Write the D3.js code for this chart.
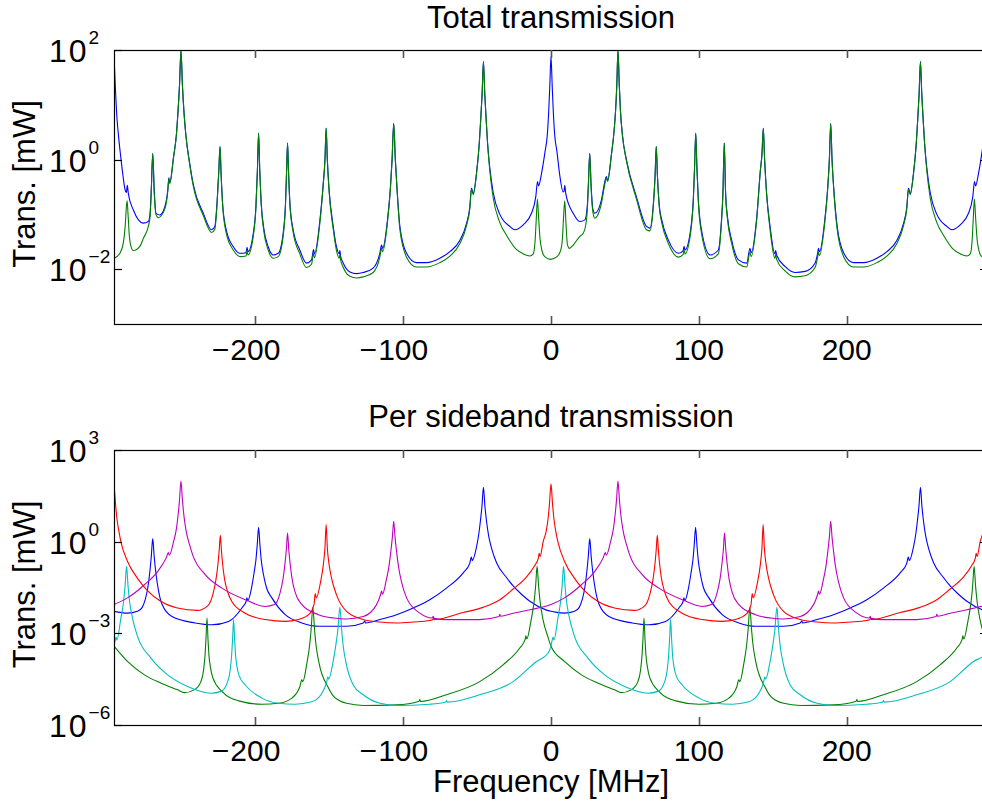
<!DOCTYPE html>
<html><head><meta charset="utf-8">
<script src="https://cdn.jsdelivr.net/npm/d3@7"></script>
<style>
html,body{margin:0;padding:0;background:#fff;}
svg{display:block;}
text{font-family:"Liberation Sans",Arial,Helvetica,sans-serif;fill:#000;}
</style></head>
<body>
<div id="chart"></div>
<script>
// ---------------- DATA (frequency in MHz, value as log10 of power in mW) ----------------
const titles = ["Total transmission", "Per sideband transmission"];
const xLabel = "Frequency [MHz]";
const yLabel = "Trans. [mW]";
const xTicks = [-200, -100, 0, 100, 200];
const topYTickExps = [2, 0, -2];
const bottomYTickExps = [3, 0, -3, -6];

// Top panel: total (blue) and second trace (green)
const topBlueLog = [[-295.6,1.89],[-294.6,1.27],[-293.6,0.76],[-292.5,0.42],[-291.0,0.04],[-289.5,-0.30],[-288.1,-0.55],[-287.2,-0.60],[-286.6,-0.47],[-285.9,-0.62],[-282.5,-0.92],[-275.8,-1.16],[-272.4,-1.13],[-271.2,-0.98],[-270.4,-0.55],[-269.4,0.11],[-268.4,-0.55],[-267.2,-0.98],[-264.5,-1.01],[-261.2,-0.86],[-259.2,-0.55],[-258.5,-0.33],[-257.9,-0.42],[-255.3,0.05],[-253.3,0.48],[-252.3,0.88],[-251.3,1.35],[-250.3,1.99],[-249.3,1.35],[-248.3,0.88],[-247.0,0.45],[-244.5,-0.05],[-242.0,-0.45],[-235.2,-0.98],[-229.6,-1.28],[-227.4,-1.22],[-225.8,-0.74],[-224.7,-0.20],[-223.9,0.24],[-223.1,-0.30],[-222.0,-0.85],[-219.5,-1.30],[-214.9,-1.59],[-210.4,-1.71],[-206.3,-1.70],[-205.6,-1.60],[-205.0,-1.68],[-201.4,-1.35],[-199.6,-0.85],[-198.6,-0.20],[-197.8,0.48],[-197.0,-0.20],[-196.0,-0.80],[-194.3,-1.25],[-191.3,-1.59],[-187.9,-1.74],[-184.5,-1.71],[-181.2,-1.35],[-179.6,-0.80],[-178.9,-0.25],[-178.2,0.30],[-177.5,-0.25],[-176.6,-0.80],[-174.4,-1.28],[-169.9,-1.65],[-165.4,-1.89],[-162.0,-1.83],[-160.6,-1.64],[-160.0,-1.72],[-156.3,-1.10],[-154.1,-0.45],[-152.9,0.00],[-152.1,0.57],[-151.3,0.00],[-150.1,-0.55],[-147.3,-1.22],[-145.1,-1.59],[-143.2,-1.72],[-142.8,-1.66],[-142.3,-1.76],[-140.5,-1.89],[-136.0,-2.05],[-131.5,-2.08],[-127.0,-2.06],[-120.3,-1.98],[-115.8,-1.71],[-114.6,-1.56],[-113.9,-1.62],[-110.6,-1.10],[-108.6,-0.50],[-107.5,0.00],[-106.4,0.66],[-105.3,0.00],[-104.2,-0.50],[-102.2,-1.22],[-97.7,-1.71],[-91.0,-1.88],[-84.2,-1.88],[-75.2,-1.80],[-68.4,-1.68],[-61.6,-1.47],[-57.1,-1.16],[-54.9,-0.86],[-53.8,-0.52],[-52.6,-0.62],[-50.4,-0.25],[-48.5,0.30],[-47.5,0.75],[-46.6,1.20],[-45.7,1.79],[-44.8,1.20],[-43.9,0.75],[-42.9,0.30],[-41.4,-0.15],[-39.1,-0.60],[-34.6,-1.00],[-27.8,-1.22],[-24.4,-1.28],[-18.8,-1.19],[-13.2,-0.98],[-10.3,-0.68],[-9.1,-0.40],[-8.4,-0.48],[-6.4,-0.25],[-4.0,0.15],[-2.5,0.45],[-1.6,0.85],[-0.8,1.35],[0.0,1.88],[0.8,1.35],[1.6,0.85],[2.5,0.45],[4.0,0.15],[6.0,-0.30],[8.2,-0.59],[8.8,-0.58],[9.3,-0.47],[10.0,-0.62],[15.0,-0.98],[19.5,-1.13],[22.9,-1.10],[24.5,-0.86],[25.3,-0.45],[26.2,0.11],[27.1,-0.45],[28.3,-0.90],[29.6,-0.98],[34.1,-0.74],[36.4,-0.40],[37.5,-0.31],[38.3,-0.38],[40.9,0.10],[42.6,0.50],[43.7,0.90],[44.5,1.35],[45.3,1.99],[46.2,1.35],[47.0,0.88],[48.3,0.45],[51.0,0.00],[57.8,-0.68],[64.6,-1.22],[66.9,-1.25],[69.1,-0.86],[70.4,-0.30],[71.2,0.24],[72.0,-0.30],[73.3,-0.85],[74.9,-1.10],[79.4,-1.47],[86.2,-1.71],[89.4,-1.66],[90.0,-1.58],[90.6,-1.65],[94.6,-1.25],[96.3,-0.70],[97.1,-0.15],[97.9,0.48],[98.7,-0.15],[99.6,-0.70],[101.4,-1.22],[107.6,-1.74],[113.2,-1.65],[115.2,-1.15],[116.3,-0.60],[117.2,0.30],[118.1,-0.60],[119.4,-1.05],[122.2,-1.47],[126.8,-1.83],[132.4,-1.89],[134.6,-1.62],[135.4,-1.70],[139.2,-1.04],[141.6,-0.20],[142.7,0.10],[143.6,0.57],[144.5,0.00],[145.8,-0.60],[148.2,-1.22],[151.4,-1.72],[152.0,-1.66],[152.6,-1.74],[158.3,-1.95],[165.1,-2.06],[171.9,-2.04],[178.6,-1.89],[180.4,-1.70],[180.9,-1.62],[181.6,-1.68],[185.2,-1.10],[187.2,-0.50],[188.3,0.00],[189.2,0.66],[190.1,0.00],[191.2,-0.50],[193.6,-1.22],[198.1,-1.71],[204.6,-1.88],[211.4,-1.88],[220.4,-1.80],[227.2,-1.68],[234.0,-1.47],[238.5,-1.16],[240.7,-0.86],[241.8,-0.52],[243.0,-0.62],[245.2,-0.25],[247.1,0.30],[248.1,0.75],[249.0,1.20],[249.9,1.79],[250.8,1.20],[251.7,0.75],[252.7,0.30],[254.2,-0.15],[256.5,-0.60],[261.0,-1.00],[267.8,-1.22],[271.2,-1.28],[276.8,-1.19],[282.4,-0.98],[285.3,-0.68],[286.5,-0.40],[287.2,-0.48],[289.2,-0.25],[291.6,0.15],[293.1,0.45],[294.0,0.85],[294.8,1.35],[295.6,1.88]];

const topGreenLog = [[-295.6,-1.80],[-291.6,-1.71],[-289.3,-1.52],[-288.0,-1.20],[-287.2,-0.85],[-286.7,-0.75],[-286.1,-1.00],[-285.2,-1.40],[-283.7,-1.62],[-282.5,-1.66],[-278.0,-1.58],[-275.8,-1.44],[-272.4,-1.22],[-271.2,-1.04],[-270.4,-0.60],[-269.4,0.11],[-268.4,-0.60],[-267.2,-1.00],[-265.7,-1.06],[-261.2,-0.90],[-259.2,-0.57],[-258.5,-0.35],[-257.9,-0.44],[-255.3,0.05],[-253.3,0.48],[-252.3,0.88],[-251.3,1.35],[-250.3,1.99],[-249.3,1.35],[-248.3,0.88],[-247.0,0.45],[-244.5,-0.07],[-242.0,-0.48],[-235.2,-1.02],[-229.6,-1.33],[-227.4,-1.27],[-225.8,-0.77],[-224.7,-0.20],[-223.9,0.24],[-223.1,-0.30],[-222.0,-0.88],[-219.5,-1.36],[-214.9,-1.65],[-210.4,-1.77],[-206.3,-1.76],[-205.6,-1.66],[-205.0,-1.74],[-201.4,-1.40],[-199.6,-0.88],[-198.6,-0.20],[-197.8,0.48],[-197.0,-0.20],[-196.0,-0.83],[-194.3,-1.30],[-191.3,-1.65],[-187.9,-1.80],[-184.5,-1.77],[-181.2,-1.40],[-179.6,-0.83],[-178.9,-0.25],[-178.2,0.30],[-177.5,-0.25],[-176.6,-0.83],[-174.4,-1.33],[-169.9,-1.72],[-165.4,-1.97],[-162.0,-1.91],[-160.6,-1.71],[-160.0,-1.79],[-156.3,-1.15],[-154.1,-0.47],[-152.9,0.00],[-152.1,0.57],[-151.3,0.00],[-150.1,-0.58],[-147.3,-1.27],[-145.1,-1.66],[-143.2,-1.80],[-142.8,-1.73],[-142.3,-1.83],[-140.5,-1.97],[-136.0,-2.13],[-131.5,-2.16],[-127.0,-2.14],[-120.3,-2.06],[-115.8,-1.78],[-114.6,-1.62],[-113.9,-1.68],[-110.6,-1.14],[-108.6,-0.52],[-107.5,0.00],[-106.4,0.66],[-105.3,0.00],[-104.2,-0.52],[-102.2,-1.28],[-97.7,-1.78],[-91.0,-1.96],[-84.2,-1.96],[-75.2,-1.88],[-68.4,-1.76],[-61.6,-1.53],[-57.1,-1.20],[-54.9,-0.89],[-53.8,-0.54],[-52.6,-0.64],[-50.4,-0.26],[-48.5,0.30],[-47.5,0.75],[-46.6,1.20],[-45.7,1.79],[-44.8,1.20],[-43.9,0.75],[-42.9,0.30],[-41.4,-0.20],[-39.1,-0.70],[-34.6,-1.15],[-30.1,-1.38],[-23.4,-1.64],[-18.8,-1.72],[-14.3,-1.76],[-12.0,-1.72],[-10.8,-1.50],[-10.0,-1.10],[-9.2,-0.72],[-8.4,-1.05],[-7.4,-1.45],[-6.2,-1.65],[-4.2,-1.77],[-0.4,-1.82],[3.7,-1.78],[6.5,-1.66],[7.7,-1.45],[8.5,-1.05],[9.3,-0.75],[10.1,-1.15],[11.1,-1.55],[12.5,-1.62],[15.0,-1.56],[19.5,-1.40],[21.7,-1.35],[23.6,-1.18],[24.7,-0.85],[25.3,-0.45],[26.2,0.11],[27.1,-0.50],[28.3,-0.95],[29.6,-1.07],[31.5,-1.02],[34.1,-0.80],[36.4,-0.45],[37.5,-0.33],[38.3,-0.40],[40.9,0.10],[42.6,0.50],[43.7,0.90],[44.5,1.35],[45.3,1.99],[46.2,1.35],[47.0,0.88],[48.3,0.45],[51.0,-0.02],[57.8,-0.72],[64.6,-1.28],[66.9,-1.30],[69.1,-0.89],[70.4,-0.30],[71.2,0.24],[72.0,-0.30],[73.3,-0.88],[74.9,-1.15],[79.4,-1.53],[86.2,-1.78],[89.4,-1.73],[90.0,-1.64],[90.6,-1.72],[94.6,-1.30],[96.3,-0.73],[97.1,-0.15],[97.9,0.48],[98.7,-0.15],[99.6,-0.73],[101.4,-1.28],[107.6,-1.81],[113.2,-1.72],[115.2,-1.19],[116.3,-0.62],[117.2,0.30],[118.1,-0.62],[119.4,-1.09],[122.2,-1.53],[126.8,-1.90],[132.4,-1.96],[134.6,-1.69],[135.4,-1.77],[139.2,-1.08],[141.6,-0.21],[142.7,0.10],[143.6,0.57],[144.5,0.00],[145.8,-0.62],[148.2,-1.28],[151.4,-1.80],[152.0,-1.73],[152.6,-1.82],[158.3,-2.03],[165.1,-2.14],[171.9,-2.12],[178.6,-1.97],[180.4,-1.77],[180.9,-1.69],[181.6,-1.75],[185.2,-1.14],[187.2,-0.52],[188.3,0.00],[189.2,0.66],[190.1,0.00],[191.2,-0.52],[193.6,-1.28],[198.1,-1.78],[204.6,-1.96],[211.4,-1.96],[220.4,-1.88],[227.2,-1.76],[234.0,-1.53],[238.5,-1.20],[240.7,-0.89],[241.8,-0.54],[243.0,-0.64],[245.2,-0.26],[247.1,0.30],[248.1,0.75],[249.0,1.20],[249.9,1.79],[250.8,1.20],[251.7,0.75],[252.7,0.30],[254.2,-0.20],[256.5,-0.70],[261.0,-1.15],[265.5,-1.38],[272.2,-1.64],[276.8,-1.72],[281.3,-1.76],[283.6,-1.72],[284.8,-1.50],[285.6,-1.10],[286.4,-0.72],[287.2,-1.05],[288.2,-1.45],[289.4,-1.65],[291.4,-1.77],[295.6,-1.80]];

// Bottom panel: per sideband
const sbBlueLog = [[-295.6,-2.28],[-286.5,-2.34],[-279.7,-2.28],[-276.5,-2.15],[-274.5,-1.90],[-272.7,-1.50],[-271.4,-1.00],[-270.4,-0.50],[-269.4,0.10],[-268.4,-0.50],[-267.2,-1.05],[-265.5,-1.60],[-263.1,-2.05],[-256.4,-2.45],[-240.7,-2.66],[-229.4,-2.72],[-218.1,-2.61],[-209.1,-2.17],[-206.2,-1.95],[-205.7,-1.84],[-205.1,-1.93],[-202.6,-1.52],[-200.8,-1.00],[-199.6,-0.60],[-198.7,-0.10],[-197.8,0.47],[-196.9,-0.10],[-196.0,-0.60],[-194.6,-1.05],[-192.5,-1.50],[-188.8,-1.84],[-179.8,-2.39],[-168.5,-2.66],[-157.3,-2.77],[-138.3,-2.77],[-127.0,-2.66],[-126.0,-2.60],[-125.4,-2.66],[-115.7,-2.55],[-104.5,-2.39],[-93.2,-2.17],[-82.0,-1.90],[-70.7,-1.52],[-59.4,-1.02],[-54.9,-0.70],[-53.9,-0.50],[-53.2,-0.62],[-50.5,-0.20],[-48.7,0.30],[-47.7,0.70],[-46.7,1.16],[-45.7,1.78],[-44.7,1.16],[-43.7,0.70],[-42.2,0.20],[-40.0,-0.25],[-36.9,-0.68],[-30.0,-1.18],[-25.6,-1.45],[-20.0,-1.72],[-14.3,-1.95],[-3.0,-2.24],[0.0,-2.28],[9.1,-2.34],[15.9,-2.28],[19.1,-2.15],[21.1,-1.90],[22.9,-1.50],[24.2,-1.00],[25.2,-0.50],[26.2,0.10],[27.2,-0.50],[28.4,-1.05],[30.1,-1.60],[32.5,-2.05],[39.2,-2.45],[54.9,-2.66],[66.2,-2.72],[77.5,-2.61],[86.5,-2.17],[89.4,-1.95],[89.9,-1.84],[90.5,-1.93],[93.0,-1.52],[94.8,-1.00],[96.0,-0.60],[96.9,-0.10],[97.8,0.47],[98.7,-0.10],[99.6,-0.60],[101.0,-1.05],[103.1,-1.50],[106.8,-1.84],[115.8,-2.39],[127.1,-2.66],[138.3,-2.77],[157.3,-2.77],[168.6,-2.66],[169.6,-2.60],[170.2,-2.66],[179.9,-2.55],[191.1,-2.39],[202.4,-2.17],[213.6,-1.90],[224.9,-1.52],[236.2,-1.02],[240.7,-0.70],[241.7,-0.50],[242.4,-0.62],[245.1,-0.20],[246.9,0.30],[247.9,0.70],[248.9,1.16],[249.9,1.78],[250.9,1.16],[251.9,0.70],[253.4,0.20],[255.6,-0.25],[258.7,-0.68],[265.6,-1.18],[270.0,-1.45],[275.6,-1.72],[281.3,-1.95],[292.6,-2.24],[295.6,-2.28]];

const sbGreenLog = [[-295.6,-3.42],[-286.5,-3.92],[-275.0,-4.36],[-263.7,-4.63],[-252.5,-4.85],[-248.0,-4.94],[-241.3,-4.85],[-236.8,-4.58],[-235.0,-4.20],[-234.0,-3.70],[-233.4,-3.20],[-232.7,-2.50],[-232.0,-3.20],[-231.4,-3.70],[-230.4,-4.10],[-228.8,-4.45],[-222.6,-4.90],[-211.3,-5.21],[-195.5,-5.32],[-184.3,-5.29],[-175.3,-5.12],[-169.9,-4.75],[-168.6,-4.52],[-167.9,-4.58],[-165.2,-4.00],[-163.3,-3.40],[-162.3,-2.90],[-161.1,-2.15],[-159.9,-2.90],[-158.9,-3.40],[-157.0,-3.95],[-150.5,-4.79],[-146.9,-5.07],[-138.3,-5.29],[-127.0,-5.36],[-104.5,-5.34],[-89.2,-5.22],[-88.7,-5.17],[-88.2,-5.23],[-70.7,-5.01],[-48.2,-4.58],[-32.4,-4.03],[-21.1,-3.48],[-17.5,-3.20],[-17.0,-3.08],[-16.4,-3.18],[-13.4,-2.55],[-11.4,-1.95],[-10.4,-1.45],[-9.4,-0.81],[-8.4,-1.45],[-7.4,-1.95],[-5.4,-2.55],[-2.2,-3.10],[0.0,-3.42],[9.1,-3.92],[20.6,-4.36],[31.9,-4.63],[43.1,-4.85],[47.6,-4.94],[54.3,-4.85],[58.8,-4.58],[60.6,-4.20],[61.6,-3.70],[62.2,-3.20],[62.9,-2.50],[63.6,-3.20],[64.2,-3.70],[65.2,-4.10],[66.8,-4.45],[73.0,-4.90],[84.3,-5.21],[100.1,-5.32],[111.3,-5.29],[120.3,-5.12],[125.7,-4.75],[127.0,-4.52],[127.7,-4.58],[130.4,-4.00],[132.3,-3.40],[133.3,-2.90],[134.5,-2.15],[135.7,-2.90],[136.7,-3.40],[138.6,-3.95],[145.1,-4.79],[148.7,-5.07],[157.3,-5.29],[168.6,-5.36],[191.1,-5.34],[206.4,-5.22],[206.9,-5.17],[207.4,-5.23],[224.9,-5.01],[247.4,-4.58],[263.2,-4.03],[274.5,-3.48],[278.1,-3.20],[278.6,-3.08],[279.2,-3.18],[282.2,-2.55],[284.2,-1.95],[285.2,-1.45],[286.2,-0.81],[287.2,-1.45],[288.2,-1.95],[290.2,-2.55],[293.4,-3.10],[295.6,-3.42]];

const sbRedLog = [[-295.6,1.89],[-294.6,1.26],[-293.6,0.74],[-292.5,0.40],[-291.0,0.01],[-286.5,-0.64],[-279.7,-1.20],[-273.0,-1.60],[-264.0,-1.95],[-252.7,-2.17],[-239.2,-2.25],[-232.2,-2.10],[-228.6,-1.70],[-226.5,-1.20],[-225.2,-0.70],[-224.4,-0.25],[-223.7,0.21],[-223.0,-0.25],[-222.2,-0.70],[-220.9,-1.20],[-218.8,-1.63],[-215.9,-1.96],[-206.9,-2.34],[-193.3,-2.55],[-179.8,-2.61],[-170.8,-2.55],[-162.9,-2.34],[-160.3,-2.06],[-159.5,-1.70],[-158.8,-1.84],[-155.8,-1.30],[-154.0,-0.75],[-152.9,-0.20],[-152.1,0.56],[-151.3,-0.20],[-150.1,-0.75],[-148.4,-1.20],[-145.1,-1.74],[-138.3,-2.28],[-127.0,-2.55],[-115.7,-2.63],[-104.5,-2.66],[-93.2,-2.63],[-82.0,-2.58],[-79.8,-2.55],[-79.3,-2.49],[-78.8,-2.55],[-59.4,-2.32],[-45.9,-2.15],[-34.6,-1.90],[-25.6,-1.55],[-16.5,-1.15],[-11.0,-0.78],[-8.6,-0.55],[-8.0,-0.38],[-7.4,-0.48],[-5.3,0.00],[-3.1,0.38],[-2.0,0.74],[-1.0,1.26],[0.0,1.89],[1.0,1.26],[2.0,0.74],[3.0,0.40],[4.6,0.01],[9.1,-0.64],[15.9,-1.20],[22.6,-1.60],[31.6,-1.95],[42.9,-2.17],[56.4,-2.25],[63.4,-2.10],[67.0,-1.70],[69.1,-1.20],[70.4,-0.70],[71.2,-0.25],[71.9,0.21],[72.6,-0.25],[73.4,-0.70],[74.7,-1.20],[76.8,-1.63],[79.7,-1.96],[88.7,-2.34],[102.3,-2.55],[115.8,-2.61],[124.8,-2.55],[132.7,-2.34],[135.3,-2.06],[136.1,-1.70],[136.8,-1.84],[139.8,-1.30],[141.6,-0.75],[142.7,-0.20],[143.5,0.56],[144.3,-0.20],[145.5,-0.75],[147.2,-1.20],[150.5,-1.74],[157.3,-2.28],[168.6,-2.55],[179.9,-2.63],[191.1,-2.66],[202.4,-2.63],[213.6,-2.58],[215.8,-2.55],[216.3,-2.49],[216.8,-2.55],[236.2,-2.32],[249.7,-2.15],[261.0,-1.90],[270.0,-1.55],[279.1,-1.15],[284.6,-0.78],[287.0,-0.55],[287.6,-0.38],[288.2,-0.48],[290.3,0.00],[292.5,0.38],[293.6,0.74],[294.6,1.26],[295.6,1.89]];

const sbCyanLog = [[-295.6,-3.42],[-294.8,-3.22],[-294.2,-3.12],[-293.6,-3.22],[-291.1,-2.55],[-289.1,-1.95],[-288.1,-1.45],[-287.1,-0.81],[-286.1,-1.45],[-285.1,-1.95],[-283.1,-2.50],[-279.7,-3.10],[-270.6,-3.81],[-259.3,-4.36],[-245.8,-4.74],[-230.0,-4.96],[-223.2,-4.90],[-218.7,-4.58],[-217.0,-4.20],[-216.0,-3.70],[-215.4,-3.20],[-214.7,-2.55],[-214.0,-3.20],[-213.4,-3.70],[-212.4,-4.10],[-210.8,-4.40],[-206.8,-4.69],[-195.5,-5.12],[-184.3,-5.29],[-173.0,-5.32],[-161.8,-5.24],[-155.0,-4.96],[-151.8,-4.60],[-151.0,-4.42],[-150.4,-4.50],[-147.5,-3.95],[-145.6,-3.40],[-144.2,-2.90],[-142.8,-2.15],[-141.6,-2.90],[-140.6,-3.40],[-138.7,-3.95],[-133.8,-4.69],[-127.0,-5.01],[-115.7,-5.29],[-104.5,-5.36],[-82.0,-5.32],[-71.2,-5.25],[-70.7,-5.20],[-70.2,-5.25],[-48.2,-5.01],[-25.6,-4.58],[-9.8,-3.92],[-2.2,-3.66],[0.0,-3.42],[0.8,-3.22],[1.4,-3.12],[2.0,-3.22],[4.5,-2.55],[6.5,-1.95],[7.5,-1.45],[8.5,-0.81],[9.5,-1.45],[10.5,-1.95],[12.5,-2.50],[15.9,-3.10],[25.0,-3.81],[36.3,-4.36],[49.8,-4.74],[65.6,-4.96],[72.4,-4.90],[76.9,-4.58],[78.6,-4.20],[79.6,-3.70],[80.2,-3.20],[80.9,-2.55],[81.6,-3.20],[82.2,-3.70],[83.2,-4.10],[84.8,-4.40],[88.8,-4.69],[100.1,-5.12],[111.3,-5.29],[122.6,-5.32],[133.8,-5.24],[140.6,-4.96],[143.8,-4.60],[144.6,-4.42],[145.2,-4.50],[148.1,-3.95],[150.0,-3.40],[151.4,-2.90],[152.8,-2.15],[154.0,-2.90],[155.0,-3.40],[156.9,-3.95],[161.8,-4.69],[168.6,-5.01],[179.9,-5.29],[191.1,-5.36],[213.6,-5.32],[224.4,-5.25],[224.9,-5.20],[225.4,-5.25],[247.4,-5.01],[270.0,-4.58],[285.8,-3.92],[293.4,-3.70],[295.6,-3.42]];

const sbMagentaLog = [[-295.6,-2.06],[-286.5,-1.84],[-275.0,-1.41],[-266.0,-0.97],[-260.3,-0.53],[-258.8,-0.36],[-258.2,-0.44],[-255.3,0.00],[-253.3,0.45],[-252.3,0.85],[-251.3,1.35],[-250.3,1.98],[-249.3,1.35],[-248.3,0.85],[-247.0,0.40],[-244.5,-0.10],[-242.4,-0.43],[-233.9,-1.08],[-222.6,-1.52],[-206.8,-1.90],[-193.3,-2.12],[-187.0,-2.06],[-183.4,-1.70],[-181.2,-1.20],[-179.9,-0.70],[-179.0,-0.25],[-178.2,0.28],[-177.4,-0.25],[-176.5,-0.70],[-175.2,-1.20],[-173.1,-1.65],[-168.5,-2.06],[-157.3,-2.39],[-146.9,-2.50],[-138.3,-2.53],[-127.0,-2.45],[-118.0,-2.06],[-115.2,-1.72],[-114.6,-1.62],[-114.0,-1.72],[-111.6,-1.30],[-109.6,-0.80],[-108.3,-0.30],[-107.3,0.15],[-106.4,0.67],[-105.5,0.15],[-104.5,-0.30],[-103.2,-0.80],[-101.2,-1.30],[-97.7,-1.84],[-88.7,-2.34],[-80.2,-2.50],[-79.7,-2.44],[-79.2,-2.51],[-70.7,-2.55],[-48.2,-2.55],[-35.1,-2.45],[-34.6,-2.38],[-34.1,-2.44],[-25.6,-2.34],[-14.3,-2.23],[0.0,-2.06],[9.1,-1.84],[20.6,-1.41],[29.6,-0.97],[35.3,-0.53],[36.8,-0.36],[37.4,-0.44],[40.3,0.00],[42.3,0.45],[43.3,0.85],[44.3,1.35],[45.3,1.98],[46.3,1.35],[47.3,0.85],[48.6,0.40],[51.1,-0.10],[53.2,-0.43],[61.7,-1.08],[73.0,-1.52],[88.8,-1.90],[102.3,-2.12],[108.6,-2.06],[112.2,-1.70],[114.4,-1.20],[115.7,-0.70],[116.6,-0.25],[117.4,0.28],[118.2,-0.25],[119.1,-0.70],[120.4,-1.20],[122.5,-1.65],[127.1,-2.06],[138.3,-2.39],[148.7,-2.50],[157.3,-2.53],[168.6,-2.45],[177.6,-2.06],[180.4,-1.72],[181.0,-1.62],[181.6,-1.72],[184.0,-1.30],[186.0,-0.80],[187.3,-0.30],[188.3,0.15],[189.2,0.67],[190.1,0.15],[191.1,-0.30],[192.4,-0.80],[194.4,-1.30],[197.9,-1.84],[206.9,-2.34],[215.4,-2.50],[215.9,-2.44],[216.4,-2.51],[224.9,-2.55],[247.4,-2.55],[260.5,-2.45],[261.0,-2.38],[261.5,-2.44],[270.0,-2.34],[281.3,-2.23],[295.6,-2.06]];

// ---------------- DRAWING ----------------
const W = 982, H = 803;
const TICKFONT = 30, LABFONT = 31, SUP = 19;
const svg = d3.select("#chart").append("svg").attr("width", W).attr("height", H);

const plotLeft = 114, plotRight = 988;
const x = d3.scaleLinear().domain([-295.6, 295.6]).range([plotLeft, plotRight]);
const toMW = d => Math.pow(10, d[1]);

const panels = [
  {top: 50, bottom: 324, dom: [1e-3, 1e2], exps: topYTickExps, title: titles[0], titleY: 27.5,
   series: [{data: topBlueLog, color: "#0000FF"}, {data: topGreenLog, color: "#008000"}]},
  {top: 450, bottom: 725, dom: [1e-6, 1e3], exps: bottomYTickExps, title: titles[1], titleY: 427,
   series: [{data: sbBlueLog, color: "#0000FF"}, {data: sbGreenLog, color: "#008000"},
            {data: sbRedLog, color: "#FF0000"}, {data: sbCyanLog, color: "#00BFBF"},
            {data: sbMagentaLog, color: "#BF00BF"}]}
];

panels.forEach((p, i) => {
  const y = d3.scaleLog().domain(p.dom).range([p.bottom, p.top]);
  const g = svg.append("g");
  const clipId = "clip" + i;
  svg.append("clipPath").attr("id", clipId).append("rect")
    .attr("x", plotLeft).attr("y", p.top).attr("width", plotRight - plotLeft).attr("height", p.bottom - p.top);

  const line = d3.line().x(d => x(d[0])).y(d => y(toMW(d))).curve(d3.curveMonotoneX);
  const lines = g.append("g").attr("clip-path", `url(#${clipId})`);
  p.series.forEach(s => {
    lines.append("path").attr("d", line(s.data)).attr("fill", "none")
      .attr("stroke", s.color).attr("stroke-width", 1.1).attr("stroke-linejoin", "round");
  });

  // box
  g.append("rect").attr("x", plotLeft + 0.5).attr("y", p.top + 0.5)
    .attr("width", plotRight - plotLeft).attr("height", p.bottom - p.top)
    .attr("fill", "none").attr("stroke", "#000").attr("stroke-width", 1.2);

  // x ticks (inward, bottom and top); digits centred on the tick, minus sign hanging left
  xTicks.forEach(t => {
    const xx = Math.round(x(t)) + 0.5;
    g.append("line").attr("x1", xx).attr("x2", xx).attr("y1", p.bottom).attr("y2", p.bottom - 8)
      .attr("stroke", "#555").attr("stroke-width", 1.6);
    g.append("line").attr("x1", xx).attr("x2", xx).attr("y1", p.top).attr("y2", p.top + 8)
      .attr("stroke", "#555").attr("stroke-width", 1.6);
    const digits = g.append("text").attr("x", x(t)).attr("y", p.bottom + 36).attr("text-anchor", "middle")
      .attr("font-size", TICKFONT).text(String(Math.abs(t)));
    if (t < 0) {
      const w = digits.node().getComputedTextLength();
      g.append("text").attr("x", x(t) - w / 2 - 1).attr("y", p.bottom + 36).attr("text-anchor", "end")
        .attr("font-size", TICKFONT).text("\u2212");
    }
  });

  // y ticks (decades)
  p.exps.forEach(e => {
    const yy = Math.round(y(Math.pow(10, e))) + 0.5;
    g.append("line").attr("x1", plotLeft).attr("x2", plotLeft + 8).attr("y1", yy).attr("y2", yy)
      .attr("stroke", "#000").attr("stroke-width", 1.2);
    g.append("line").attr("x1", plotRight).attr("x2", plotRight - 8).attr("y1", yy).attr("y2", yy)
      .attr("stroke", "#000").attr("stroke-width", 1.2);
    const t = g.append("text").attr("x", 49).attr("y", yy + 11.5).attr("font-size", 32);
    t.append("tspan").attr("letter-spacing", 2).text("10");
    t.append("tspan").attr("dy", -18).attr("dx", 0).attr("font-size", SUP)
      .text(e < 0 ? "\u2212" + Math.abs(e) : String(e));
  });

  // title
  g.append("text").attr("x", (plotLeft + plotRight) / 2).attr("y", p.titleY)
    .attr("text-anchor", "middle").attr("font-size", LABFONT).text(p.title);

  // y label
  const cy = (p.top + p.bottom) / 2;
  g.append("text").attr("transform", `translate(35,${cy - 3}) rotate(-90)`)
    .attr("text-anchor", "middle").attr("font-size", LABFONT).text(yLabel);
});

svg.append("text").attr("x", (plotLeft + plotRight) / 2).attr("y", 792)
  .attr("text-anchor", "middle").attr("font-size", LABFONT).text(xLabel);
</script>
</body></html>
